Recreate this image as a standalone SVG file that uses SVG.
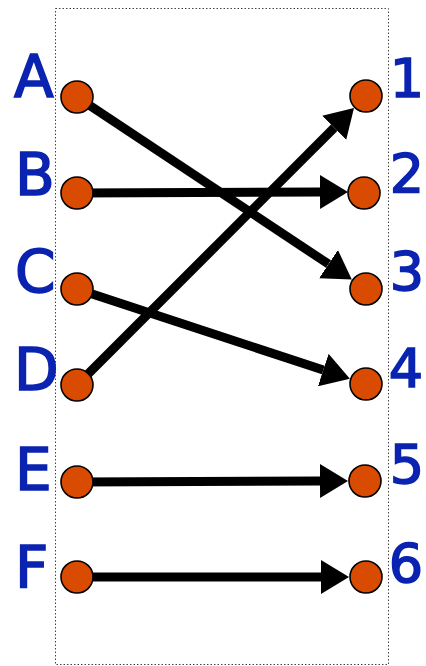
<svg xmlns="http://www.w3.org/2000/svg" width="426" height="666" viewBox="0 0 426 666">
<style>
.lbl{font-family:"DejaVu Sans","Liberation Sans",sans-serif;font-size:58px;fill:#0a23b0;stroke:#0a23b0;stroke-width:1.6}
.num{font-family:"DejaVu Sans","Liberation Sans",sans-serif;font-size:54px;fill:#0a23b0;stroke:#0a23b0;stroke-width:1.6;text-anchor:end}
.node{fill:#d94b00;stroke:#000;stroke-width:1.6}
.edge{stroke:#000;stroke-width:9;fill:none;marker-end:url(#ah)}
</style>
<defs>
<marker id="ah" markerUnits="userSpaceOnUse" markerWidth="28" markerHeight="34" refX="0" refY="17" orient="auto" viewBox="0 0 28 34">
<path d="M0,0 L28,17 L0,34 z" fill="#000"/>
</marker>
</defs>
<rect x="55.5" y="8.5" width="333" height="656" fill="#fff" stroke="#444" stroke-width="1" stroke-dasharray="1.5,2"/>
<g id="connectors">
<line class="edge" x1="77" y1="97" x2="328.5" y2="264.1"/>
<line class="edge" x1="77" y1="193" x2="320" y2="192"/>
<line class="edge" x1="77" y1="289" x2="323.3" y2="370"/>
<line class="edge" x1="77" y1="385" x2="334.2" y2="127.8"/>
<line class="edge" x1="77" y1="482" x2="320" y2="481"/>
<line class="edge" x1="77" y1="577" x2="321" y2="577"/>
</g>
<g id="A"><circle class="node" cx="77" cy="97" r="16"/><text class="lbl" x="14" y="97">A</text></g>
<g id="B"><circle class="node" cx="77" cy="193" r="16"/><text class="lbl" x="15" y="195">B</text></g>
<g id="C"><circle class="node" cx="77" cy="289" r="16"/><text class="lbl" x="15" y="292">C</text></g>
<g id="D"><circle class="node" cx="77" cy="385" r="16"/><text class="lbl" x="14" y="390">D</text></g>
<g id="E"><circle class="node" cx="77" cy="482" r="16"/><text class="lbl" x="15" y="490">E</text></g>
<g id="F"><circle class="node" cx="77" cy="577" r="16"/><text class="lbl" x="15" y="588">F</text></g>
<g id="n1"><circle class="node" cx="366" cy="96" r="16"/><text class="num" x="424" y="97">1</text></g>
<g id="n2"><circle class="node" cx="364" cy="193" r="16"/><text class="num" x="424" y="192">2</text></g>
<g id="n3"><circle class="node" cx="366" cy="289" r="16"/><text class="num" x="424" y="290">3</text></g>
<g id="n4"><circle class="node" cx="366" cy="384" r="16"/><text class="num" x="423" y="387">4</text></g>
<g id="n5"><circle class="node" cx="365" cy="481" r="16"/><text class="num" x="424" y="483">5</text></g>
<g id="n6"><circle class="node" cx="366" cy="577" r="16"/><text class="num" x="423" y="582">6</text></g>
</svg>
